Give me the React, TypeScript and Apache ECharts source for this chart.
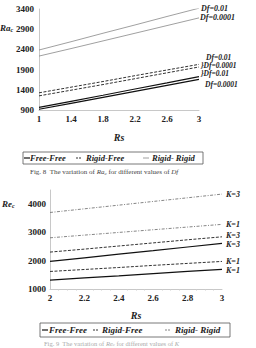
import React, { useEffect, useRef } from "react";
import * as echarts from "echarts";

// ---------- Fig. 8 data (Rs vs Ra_c) ----------
const topRs = [1, 1.4, 1.8, 2.2, 2.6, 3];
const topFreeFree001 = [965, 1115, 1265, 1420, 1570, 1725];
const topFreeFree00001 = [918, 1065, 1212, 1360, 1510, 1660];
const topRigidFree001 = [1325, 1465, 1605, 1750, 1890, 2030];
const topRigidFree00001 = [1250, 1390, 1530, 1675, 1820, 1965];
const topRigidRigid001 = [2385, 2590, 2800, 3005, 3215, 3420];
const topRigidRigid00001 = [2235, 2420, 2610, 2800, 2990, 3180];

// ---------- Fig. 9 data (Rs vs Re_c) ----------
const botRs = [2, 2.2, 2.4, 2.6, 2.8, 3];
const botFreeFreeK1 = [1315, 1390, 1465, 1545, 1620, 1695];
const botRigidFreeK1 = [1620, 1690, 1760, 1835, 1905, 1975];
const botFreeFreeK3 = [1975, 2100, 2230, 2355, 2485, 2610];
const botRigidFreeK3 = [2305, 2410, 2520, 2630, 2740, 2845];
const botRigidRigidK1 = [2810, 2905, 3000, 3095, 3190, 3285];
const botRigidRigidK3 = [3705, 3835, 3965, 4095, 4225, 4355];

const legendNames = ["Free-Free", "Rigid-Free", "Rigid- Rigid"];

const SERIF = "'Liberation Serif', 'DejaVu Serif', serif";

const pair = (xs: number[], ys: number[]) => xs.map((x, i) => [x, ys[i]]);

export default function App() {
  const ref = useRef<HTMLDivElement>(null);

  useEffect(() => {
    if (!ref.current) return;
    const chart = echarts.init(ref.current, null, { renderer: "svg" });

    const labelFont = {
      fontFamily: SERIF,
      fontWeight: "bold" as const,
      fontStyle: "italic" as const,
      fontSize: 8,
      color: "#222",
    };

    const ffStyle = { color: "#111", width: 1.2, type: "solid" as const };
    const rfStyle = { color: "#333", width: 1, type: [3, 1.5] as any };
    const rrTopStyle = { color: "#888", width: 0.8, type: "solid" as const };
    const rrBotStyle = { color: "#777", width: 0.9, type: [3, 1.5, 1, 1.5] as any };

    const mk = (
      name: string,
      xi: number,
      xs: number[],
      ys: number[],
      lineStyle: any,
      label: string,
      offset: number[],
      fs = 8
    ) => ({
      type: "line",
      name,
      xAxisIndex: xi,
      yAxisIndex: xi,
      data: pair(xs, ys),
      showSymbol: false,
      symbol: "none",
      lineStyle,
      endLabel: {
        show: true,
        formatter: label,
        distance: 0,
        offset,
        ...labelFont,
        fontSize: fs,
      },
      z: 3,
    });

    const axisLabelStyle = {
      fontFamily: SERIF,
      fontWeight: "bold" as const,
      fontSize: 9,
      color: "#222",
    };
    const axisLine = { show: true, lineStyle: { color: "#c8c8c8", width: 1 } };
    const plain = (v: number) => String(Math.round(v * 100) / 100);

    const legendGraphic = (
      x: number,
      y: number,
      w: number,
      h: number,
      items: { lx: number; tx: number; style: any }[],
      fontSize: number
    ) => {
      const cy = y + h / 2;
      const children: any[] = [
        {
          type: "rect",
          shape: { x, y, width: w, height: h },
          style: { fill: "none", stroke: "#555", lineWidth: 0.8 },
        },
      ];
      items.forEach((it, i) => {
        children.push({
          type: "line",
          shape: { x1: it.lx, y1: cy, x2: it.lx + 6, y2: cy },
          style: {
            stroke: it.style.color,
            lineWidth: it.style.width,
            lineDash: Array.isArray(it.style.type) ? [2, 1] : null,
          },
        });
        children.push({
          type: "text",
          x: it.tx,
          y: cy,
          style: {
            text: legendNames[i],
            fontFamily: SERIF,
            fontWeight: "bold",
            fontStyle: "italic",
            fontSize,
            fill: "#222",
            verticalAlign: "middle",
          },
        });
      });
      return children;
    };

    const subLabel = (main: string, x: number, y: number) => ({
      type: "text",
      x,
      y,
      style: {
        text: `{a|${main}}{b|c}`,
        verticalAlign: "middle",
        rich: {
          a: { fontFamily: SERIF, fontWeight: "bold", fontStyle: "italic", fontSize: 9, fill: "#222" },
          b: { fontFamily: SERIF, fontWeight: "bold", fontStyle: "italic", fontSize: 6, fill: "#222", padding: [4, 0, 0, 0] },
        },
      },
    });

    chart.setOption({
      animation: false,
      grid: [
        { left: 39, top: 9, width: 160, height: 101 },
        { left: 50, top: 190, width: 172, height: 99 },
      ],
      xAxis: [
        {
          type: "value",
          gridIndex: 0,
          min: 1,
          max: 3,
          interval: 0.4,
          axisLine,
          axisTick: { show: false },
          splitLine: { show: false },
          axisLabel: { ...axisLabelStyle, margin: 4, formatter: plain },
          name: "Rs",
          nameLocation: "middle",
          nameGap: 22,
          nameTextStyle: { ...labelFont, fontSize: 10 },
        },
        {
          type: "value",
          gridIndex: 1,
          min: 2,
          max: 3,
          interval: 0.2,
          axisLine,
          axisTick: { show: false },
          minorTick: { show: true, splitNumber: 4, length: 1.5, lineStyle: { color: "#ccc" } },
          splitLine: { show: false },
          axisLabel: { ...axisLabelStyle, margin: 4, formatter: plain },
          name: "Rs",
          nameLocation: "middle",
          nameGap: 21,
          nameTextStyle: { ...labelFont, fontSize: 10 },
        },
      ],
      yAxis: [
        {
          type: "value",
          gridIndex: 0,
          min: 900,
          max: 3400,
          interval: 500,
          axisLine,
          axisTick: { show: false },
          splitLine: { show: false },
          axisLabel: { ...axisLabelStyle, margin: 5, formatter: plain },
        },
        {
          type: "value",
          gridIndex: 1,
          min: 1000,
          max: 4500,
          interval: 1000,
          axisLine,
          axisTick: { show: false },
          splitLine: { show: false },
          axisLabel: { ...axisLabelStyle, margin: 4, showMaxLabel: false, formatter: plain },
        },
      ],
      series: [
        mk("Rigid- Rigid", 0, topRs, topRigidRigid001, rrTopStyle, "Df=0.01", [2, 0]),
        mk("Rigid- Rigid", 0, topRs, topRigidRigid00001, rrTopStyle, "Df=0.0001", [1, 0]),
        mk("Rigid-Free", 0, topRs, topRigidFree001, rfStyle, "Df=0.01", [7, -7], 7.5),
        mk("Rigid-Free", 0, topRs, topRigidFree00001, rfStyle, "}Df=0.0001", [2, -1], 7.5),
        mk("Free-Free", 0, topRs, topFreeFree001, ffStyle, "}Df=0.01", [2, -3], 7.5),
        mk("Free-Free", 0, topRs, topFreeFree00001, ffStyle, "Df=0.0001", [6, 5], 7.5),

        mk("Rigid- Rigid", 1, botRs, botRigidRigidK3, rrBotStyle, "K=3", [4, 0]),
        mk("Rigid- Rigid", 1, botRs, botRigidRigidK1, rrBotStyle, "K=1", [4, 0]),
        mk("Rigid-Free", 1, botRs, botRigidFreeK3, rfStyle, "K=3", [4, -1]),
        mk("Free-Free", 1, botRs, botFreeFreeK3, ffStyle, "K=3", [4, 1]),
        mk("Rigid-Free", 1, botRs, botRigidFreeK1, rfStyle, "K=1", [4, 0]),
        mk("Free-Free", 1, botRs, botFreeFreeK1, ffStyle, "K=1", [4, 1]),
      ],
      graphic: [
        subLabel("Ra", 0, 28),
        subLabel("Re", 2, 204),
        {
          type: "group",
          children: legendGraphic(
            23,
            152,
            180,
            12,
            [
              { lx: 24, tx: 30, style: ffStyle },
              { lx: 76, tx: 86, style: rfStyle },
              { lx: 143, tx: 152, style: rrTopStyle },
            ],
            8.5
          ),
        },
        {
          type: "group",
          children: legendGraphic(
            40,
            323,
            190,
            14,
            [
              { lx: 42, tx: 49, style: ffStyle },
              { lx: 93, tx: 102, style: rfStyle },
              { lx: 165, tx: 175, style: rrBotStyle },
            ],
            9
          ),
        },
        {
          type: "text",
          x: 30,
          y: 172,
          style: {
            text: "{t|Fig. 8  The variation of }{i|Ra}{s|c}{t| for different values of }{i|Df}",
            verticalAlign: "middle",
            rich: {
              t: { fontFamily: SERIF, fontSize: 7, fill: "#444" },
              i: { fontFamily: SERIF, fontStyle: "italic", fontSize: 7, fill: "#444" },
              s: { fontFamily: SERIF, fontStyle: "italic", fontSize: 5, fill: "#444", padding: [3, 0, 0, 0] },
            },
          },
        },
        {
          type: "text",
          x: 44,
          y: 343,
          style: {
            text: "{t|Fig. 9  The variation of }{i|Re}{s|c}{t| for different values of }{i|K}",
            verticalAlign: "middle",
            rich: {
              t: { fontFamily: SERIF, fontSize: 6.5, fill: "#aaa" },
              i: { fontFamily: SERIF, fontStyle: "italic", fontSize: 6.5, fill: "#aaa" },
              s: { fontFamily: SERIF, fontStyle: "italic", fontSize: 4.5, fill: "#aaa", padding: [2, 0, 0, 0] },
            },
          },
        },
      ],
    });

    return () => chart.dispose();
  }, []);

  return (
    <div
      ref={ref}
      style={{ position: "fixed", left: 0, top: 0, width: 256, height: 348, background: "#fff" }}
    />
  );
}
